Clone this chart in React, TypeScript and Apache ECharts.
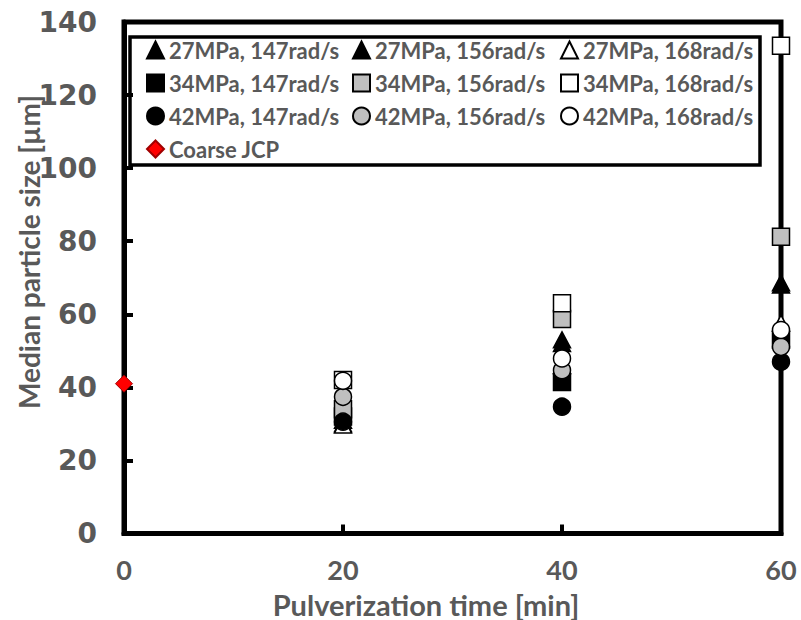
import React, { useEffect, useRef } from "react";
import * as echarts from "echarts";

const times = [20, 40, 60];
const seriesNames = [
  "27MPa, 147rad/s",
  "27MPa, 156rad/s",
  "27MPa, 168rad/s",
  "34MPa, 147rad/s",
  "34MPa, 156rad/s",
  "34MPa, 168rad/s",
  "42MPa, 147rad/s",
  "42MPa, 156rad/s",
  "42MPa, 168rad/s",
];
const p27_147 = [30, 52, 68];
const p27_156 = [31, 53, 68.6];
const p27_168 = [29.7, 46, 57.6];
const p34_147 = [32, 41.5, 53];
const p34_156 = [34, 58.7, 81.2];
const p34_168 = [42, 63, 133.5];
const p42_147 = [30.6, 34.7, 47.0];
const p42_156 = [37.4, 44.7, 51.1];
const p42_168 = [41.8, 47.9, 55.7];
const coarseName = "Coarse JCP";
const coarseTime = [0];
const coarseValue = [41];

const seriesValues = [p27_147, p27_156, p27_168, p34_147, p34_156, p34_168, p42_147, p42_156, p42_168];
const symbols = ["triangle", "triangle", "triangle", "rect", "rect", "rect", "circle", "circle", "circle"];
const fills = ["#000000", "#000000", "#ffffff", "#000000", "#bfbfbf", "#ffffff", "#000000", "#bfbfbf", "#ffffff"];

const xTicks = [0, 20, 40, 60];
const yTicks = [0, 20, 40, 60, 80, 100, 120, 140];

const TEXT = "#595959";

export default function App() {
  const ref = useRef<HTMLDivElement>(null);
  useEffect(() => {
    if (!ref.current) return;
    const chart = echarts.init(ref.current, null, { renderer: "svg" });

    const series: any[] = seriesValues.map((vals, i) => ({
      name: seriesNames[i],
      type: "scatter",
      clip: false,
      symbol: symbols[i],
      symbolSize: symbols[i] === "triangle" ? [17, 16] : 17,
      itemStyle: { color: fills[i], borderColor: "#000", borderWidth: 1.5, opacity: 1 },
      data: vals.map((v, j) => [times[j], v]),
      z: 3 + i,
    }));
    series.push({
      name: coarseName,
      type: "scatter",
      clip: false,
      symbol: "diamond",
      symbolSize: 17,
      itemStyle: { color: "#ff0000", borderColor: "#a00000", borderWidth: 1, opacity: 1 },
      data: coarseValue.map((v, j) => [coarseTime[j], v]),
      z: 20,
    });

    const colLeft = [146, 352, 560];
    const rowTop = [39, 72, 105, 138];
    const legends: any[] = [];
    const allNames = [...seriesNames, coarseName];
    allNames.forEach((n, i) => {
      const r = Math.floor(i / 3);
      const c = i % 3;
      legends.push({
        data: [n],
        left: colLeft[c],
        top: rowTop[r],
        padding: 0,
        itemWidth: 17,
        itemHeight: 17,
        itemGap: 0,
        selectedMode: false,
        textStyle: {
          color: TEXT,
          fontFamily: "Lato",
          fontWeight: "bold",
          fontSize: 22,
          lineHeight: 22,
        },
      });
    });

    chart.setOption({
      animation: false,
      backgroundColor: "#ffffff",
      grid: {
        left: 124,
        right: 20,
        top: 22,
        bottom: 86.5,
        show: true,
        borderColor: "#000",
        borderWidth: 5,
        backgroundColor: "transparent",
      },
      legend: legends,
      xAxis: {
        type: "value",
        min: xTicks[0],
        max: xTicks[xTicks.length - 1],
        interval: 20,
        splitLine: { show: false },
        axisLine: { show: true, lineStyle: { color: "#000", width: 5 } },
        axisTick: { show: true, inside: true, length: 9, lineStyle: { color: "#000", width: 4 } },
        axisLabel: {
          color: TEXT,
          fontFamily: "Lato",
          fontWeight: "bold",
          fontSize: 27,
          lineHeight: 27,
          margin: 22,
        },
      },
      yAxis: {
        type: "value",
        min: yTicks[0],
        max: yTicks[yTicks.length - 1],
        interval: 20,
        splitLine: { show: false },
        axisLine: { show: true, lineStyle: { color: "#000", width: 5 } },
        axisTick: { show: true, inside: true, length: 9, lineStyle: { color: "#000", width: 4 } },
        axisLabel: {
          color: TEXT,
          fontFamily: "DejaVu Sans",
          fontWeight: "bold",
          fontSize: 28,
          margin: 27,
        },
      },
      graphic: [
        {
          type: "rect",
          shape: { x: 130, y: 37, width: 630, height: 128 },
          style: { fill: "transparent", stroke: "#000", lineWidth: 3.5 },
          z: 1,
        },
        {
          type: "text",
          x: 426,
          y: 604,
          style: {
            text: "Pulverization time [min]",
            fill: TEXT,
            font: "bold 29px Lato",
            lineHeight: 26,
            textAlign: "center",
            textVerticalAlign: "middle",
          },
        },
        {
          type: "text",
          x: 29,
          y: 252,
          rotation: Math.PI / 2,
          style: {
            text: "Median particle size [µm]",
            fill: TEXT,
            font: "bold 28px Lato",
            textAlign: "center",
            textVerticalAlign: "middle",
          },
        },
      ],
      series,
    });
    return () => chart.dispose();
  }, []);
  return (
    <div
      ref={ref}
      style={{ position: "absolute", left: 0, top: 0, width: 801, height: 620 }}
    />
  );
}
